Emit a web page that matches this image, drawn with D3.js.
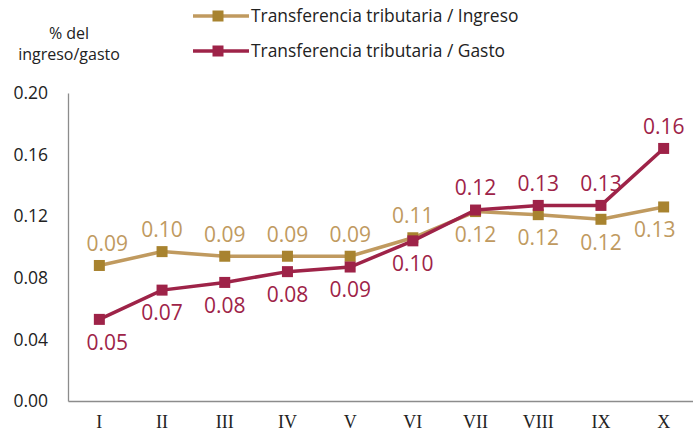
<!DOCTYPE html>
<html>
<head>
<meta charset="utf-8">
<script src="https://cdn.jsdelivr.net/npm/d3@7/dist/d3.min.js"></script>
<style>
  body { margin: 0; background: #fff; }
  svg text { font-family: "Open Sans", "Noto Sans", sans-serif; }
</style>
</head>
<body>
<div id="chart-area"></div>
<script>

// DATA
var deciles = ["I", "II", "III", "IV", "V", "VI", "VII", "VIII", "IX", "X"];
var ingreso = [0.088, 0.097, 0.094, 0.094, 0.094, 0.106, 0.123, 0.121, 0.118, 0.126];
var gasto = [0.053, 0.072, 0.077, 0.084, 0.087, 0.104, 0.124, 0.127, 0.127, 0.164];
var yTicks = [0, 0.04, 0.08, 0.12, 0.16, 0.20];
var seriesNames = ["Transferencia tributaria / Ingreso", "Transferencia tributaria / Gasto"];

var width = 693, height = 438;

var svg = d3.select("#chart-area").append("svg")
    .attr("width", width)
    .attr("height", height);

//SCALES
var x = d3.scaleBand()
    .domain(deciles)
    .range([68, 695]);

var y = d3.scaleLinear()
    .domain([0, 0.20])
    .range([401, 93]);

//AXES
var yAxis = d3.axisLeft(y)
    .tickValues(yTicks)
    .tickSize(0)
    .tickPadding(20)
    .tickFormat(d3.format(".2f"));

svg.append("g")
    .attr("class", "y-axis")
    .attr("transform", "translate(68,0)")
    .call(yAxis);

var xAxis = d3.axisBottom(x)
    .tickSize(0)
    .tickPadding(14);

svg.append("g")
    .attr("class", "x-axis")
    .attr("transform", "translate(0,401)")
    .call(xAxis);

svg.selectAll(".y-axis text")
    .style("font-size", "17.5px")
    .style("fill", "#222");

svg.selectAll(".x-axis text")
    .style("font-family", "'Liberation Serif', serif")
    .style("font-size", "18px")
    .style("fill", "#222");

svg.selectAll(".domain")
    .attr("stroke", "#8c8c8c")
    .attr("stroke-width", 1.3);

// y title
var ytitle = svg.append("text")
    .attr("x", 69)
    .attr("y", 39)
    .style("text-anchor", "middle")
    .style("font-size", "16px")
    .style("fill", "#222");
ytitle.append("tspan").attr("x", 69).text("% del");
ytitle.append("tspan").attr("x", 69).attr("dy", 21).text("ingreso/gasto");

//SERIES
var series = [
    {name: seriesNames[0], values: ingreso, line: "#c09a5f", mark: "#a8832f", label: "#c09a5f", below: function(i) { return i >= 6; }},
    {name: seriesNames[1], values: gasto, line: "#9e2348", mark: "#9e2348", label: "#9e2348", below: function(i) { return i < 6; }}
];

var drawLine = d3.line()
    .x(function(d, i) { return x(deciles[i]) + x.bandwidth() / 2; })
    .y(function(d) { return y(d); });

series.forEach(function(s) {
    svg.append("path")
        .attr("d", drawLine(s.values))
        .attr("fill", "none")
        .attr("stroke", s.line)
        .attr("stroke-width", 3.5);

    svg.selectAll(null)
        .data(s.values)
        .enter().append("rect")
        .attr("x", function(d, i) { return x(deciles[i]) + x.bandwidth() / 2 - 5.5; })
        .attr("y", function(d) { return y(d) - 5.5; })
        .attr("width", 11)
        .attr("height", 11)
        .attr("fill", s.mark);

    svg.selectAll(null)
        .data(s.values)
        .enter().append("text")
        .attr("x", function(d, i) {
            var cx = x(deciles[i]) + x.bandwidth() / 2;
            if (i === 0) cx += 8;
            if (i === deciles.length - 1 && s.below(i)) cx -= 9;
            return cx;
        })
        .attr("y", function(d, i) { return y(d) + (s.below(i) ? 23 : -22); })
        .attr("dy", "0.35em")
        .style("text-anchor", "middle")
        .style("font-size", "21px")
        .style("fill", s.label)
        .text(function(d) { return d3.format(".2f")(d); });
});

//LEGEND
var legend = svg.selectAll(".legend")
    .data(series)
    .enter().append("g")
    .attr("class", "legend")
    .attr("transform", function(d, i) { return "translate(193," + (16 + i * 35) + ")"; });

legend.append("line")
    .attr("x1", 0).attr("x2", 56)
    .attr("stroke", function(d) { return d.line; })
    .attr("stroke-width", 3.5);

legend.append("rect")
    .attr("x", 19.5).attr("y", -5.5)
    .attr("width", 11).attr("height", 11)
    .attr("fill", function(d) { return d.mark; });

legend.append("text")
    .attr("x", 58)
    .attr("dy", "0.35em")
    .style("font-size", "17.4px")
    .style("fill", "#222")
    .text(function(d) { return d.name; });

</script>
</body>
</html>
